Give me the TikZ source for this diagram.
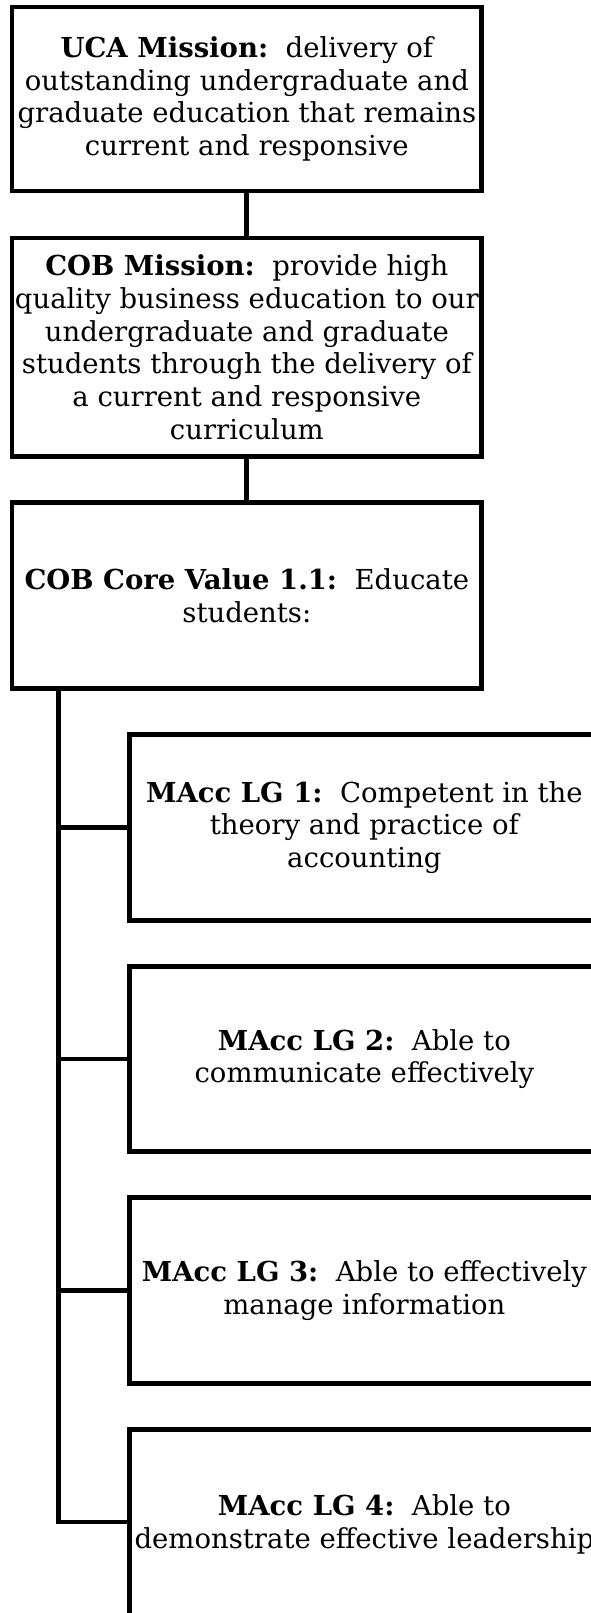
\documentclass[tikz,border=0pt]{standalone}
\usepackage{fontspec}
\setmainfont{DejaVu Serif}
\begin{document}
\begin{tikzpicture}[x=1pt,y=-1pt,
  every node/.style={font=\fontsize{27.5pt}{32.8pt}\selectfont},
  box/.style={draw=black, line width=4.8pt, fill=white, inner sep=0pt,
    outer sep=0pt, align=center},
  topbox/.style={box, minimum width=469.7pt},
  goalbox/.style={box, minimum width=470.3pt, minimum height=185.5pt},
  link/.style={draw=black, line width=4.8pt, line cap=butt}]
\useasboundingbox (0,0) rectangle (591,1613);
\clip (0,0) rectangle (591,1613);
% upper chain of missions
\node[topbox, minimum height=184pt] (uca) at (246.85,99)
  {\textbf{UCA Mission:}\ \ delivery of\\outstanding undergraduate and\\graduate education that remains\\current and responsive};
\node[topbox, minimum height=218.5pt] (cob) at (246.85,347.25)
  {\textbf{COB Mission:}\ \ provide high\\quality business education to our\\undergraduate and graduate\\students through the delivery of\\a current and responsive\\curriculum};
\node[topbox, minimum height=185.8pt] (core) at (246.85,595.4)
  {\textbf{COB Core Value 1.1:}\ \ Educate\\students:};
% learning goals
\node[goalbox] (lg1) at (364.4,827.55)
  {\textbf{MAcc LG 1:}\ \ Competent in the\\theory and practice of\\accounting};
\node[goalbox] (lg2) at (364.4,1059.05)
  {\textbf{MAcc LG 2:}\ \ Able to\\communicate effectively};
\node[goalbox] (lg3) at (364.4,1290.55)
  {\textbf{MAcc LG 3:}\ \ Able to effectively\\manage information};
\node[goalbox, minimum height=189.5pt] (lg4) at (364.4,1524.05)
  {\textbf{MAcc LG 4:}\ \ Able to\\demonstrate effective leadership};
% connectors
\draw[link] (uca.south) -- (cob.north);
\draw[link] (cob.south) -- (core.north);
\coordinate (trunk) at ([xshift=-70.4pt]lg1.west |- core.south);
\coordinate (t1) at (trunk |- lg1.west);
\coordinate (t2) at (trunk |- lg2.west);
\coordinate (t3) at (trunk |- lg3.west);
\coordinate (t4) at (trunk |- 0,1522.05);
\coordinate (b4) at (lg4.west |- t4);
\draw[link, line join=miter] (trunk) -- (t4) -- (b4);
\draw[link] (t1) -- (lg1.west);
\draw[link] (t2) -- (lg2.west);
\draw[link] (t3) -- (lg3.west);
\end{tikzpicture}
\end{document}
